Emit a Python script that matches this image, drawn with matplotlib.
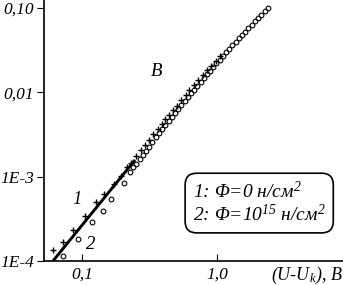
#!/usr/bin/env python3
import matplotlib as mpl
import matplotlib.pyplot as plt

# series 1: Phi = 0 (crosses)
u1 = [0.0608, 0.0718, 0.0855, 0.1045, 0.1264, 0.144, 0.171, 0.192, 0.212,
      0.23, 0.25, 0.27, 0.29, 0.31, 0.335, 0.36, 0.385, 0.41, 0.44, 0.47,
      0.5, 0.54, 0.58, 0.62, 0.67, 0.72, 0.78, 0.84, 0.9, 0.97, 1.05]
i1 = [1.35e-4, 1.69e-4, 2.33e-4, 3.44e-4, 4.97e-4, 6.22e-4, 8.18e-4, 1.02e-3, 1.29e-3,
      1.47e-3, 1.76e-3, 2.06e-3, 2.37e-3, 2.73e-3, 3.18e-3, 3.69e-3, 4.20e-3, 4.78e-3, 5.46e-3, 6.23e-3,
      6.98e-3, 8.13e-3, 9.25e-3, 1.054e-2, 1.21e-2, 1.39e-2, 1.60e-2, 1.84e-2, 2.06e-2, 2.34e-2, 2.68e-2]

# series 2: Phi = 1e15 (circles)
u2 = [0.0721, 0.093, 0.118, 0.142, 0.164, 0.203,
      0.225, 0.238, 0.25, 0.265, 0.28, 0.295, 0.31, 0.33, 0.35, 0.37, 0.39, 0.41,
      0.435, 0.46, 0.485, 0.51, 0.54, 0.57, 0.6, 0.635, 0.67, 0.71, 0.75, 0.79,
      0.835, 0.88, 0.93, 0.98, 1.04, 1.1, 1.16, 1.22, 1.29, 1.36, 1.44, 1.52,
      1.6, 1.69, 1.79, 1.89, 2.0, 2.11, 2.23, 2.35]
i2 = [1.16e-4, 1.82e-4, 2.92e-4, 3.94e-4, 5.40e-4, 8.34e-4,
      1.135e-3, 1.285e-3, 1.432e-3, 1.622e-3, 1.828e-3, 2.04e-3, 2.27e-3, 2.59e-3, 2.93e-3, 3.29e-3, 3.67e-3, 4.06e-3,
      4.59e-3, 5.14e-3, 5.71e-3, 6.32e-3, 7.08e-3, 7.87e-3, 8.71e-3, 9.73e-3, 1.079e-2, 1.205e-2, 1.337e-2, 1.476e-2,
      1.637e-2, 1.806e-2, 2.00e-2, 2.20e-2, 2.45e-2, 2.72e-2, 2.99e-2, 3.27e-2, 3.61e-2, 3.96e-2, 4.37e-2, 4.80e-2,
      5.24e-2, 5.74e-2, 6.34e-2, 6.93e-2, 7.62e-2, 8.32e-2, 9.10e-2, 9.91e-2]

# fitted straight line
u_fit = [0.0605, 0.245]
i_fit = [1.0e-4, 1.58e-3]

xticks = [0.1, 1.0]
xticklabels = ["0,1", "1,0"]
yticks = [1e-4, 1e-3, 1e-2, 1e-1]
yticklabels = ["1E-4", "1E-3", "0,01", "0,10"]

mpl.rcParams.update({
    "font.family": "Liberation Serif",
    "font.style": "italic",
    "mathtext.fontset": "custom",
    "mathtext.rm": "Liberation Serif:italic",
    "mathtext.it": "Liberation Serif:italic",
})

fig = plt.figure(figsize=(3.43, 2.85), dpi=100)
fig.patch.set_facecolor("white")
ax = fig.add_axes([44 / 343, 24 / 285, 299 / 343, 261 / 285])

ax.plot(u_fit, i_fit, color="black", lw=2.1, solid_capstyle="butt")
ax.plot(u1, i1, ls="none", marker="+", ms=3.7, mew=1.0, color="black")
ax.plot(u2, i2, ls="none", marker="o", ms=3.4, mew=0.8, mfc="none", mec="black")

ax.set_xscale("log")
ax.set_yscale("log")
ax.set_xlim(0.0519, 8.5)
ax.set_ylim(1e-4, 0.1245)

ax.set_xticks(xticks)
ax.set_xticklabels(xticklabels)
ax.set_yticks(yticks)
ax.set_yticklabels(yticklabels)
ax.minorticks_off()
ax.tick_params(axis="x", direction="in", length=5, width=0.8, labelsize=12.5, pad=4)
ax.tick_params(axis="y", direction="out", length=5, width=0.8, labelsize=12.5, pad=2)

ax.spines["top"].set_visible(False)
ax.spines["right"].set_visible(False)
for s in ("left", "bottom"):
    ax.spines[s].set_linewidth(1.2)

ax.text(1.0, -0.055, "(U-U$_k$), В", transform=ax.transAxes,
        ha="right", va="center", fontsize=13)
ax.text(0.375, 0.725, "В", transform=ax.transAxes, ha="center", va="center", fontsize=13.5)
ax.text(0.11, 0.236, "1", transform=ax.transAxes, ha="center", va="center", fontsize=13.5)
ax.text(0.155, 0.065, "2", transform=ax.transAxes, ha="center", va="center", fontsize=13.5)

ax.text(0.498, 0.222, "1: Φ=0 н/см$^2$\n2: Φ=10$^{15}$ н/см$^2$",
        transform=ax.transAxes, ha="left", va="center", fontsize=14, linespacing=1.1,
        bbox=dict(boxstyle="round,pad=0.4,rounding_size=0.6", fc="white", ec="black", lw=1.2))

fig.savefig("out.png", dpi=100)
plt.close(fig)
